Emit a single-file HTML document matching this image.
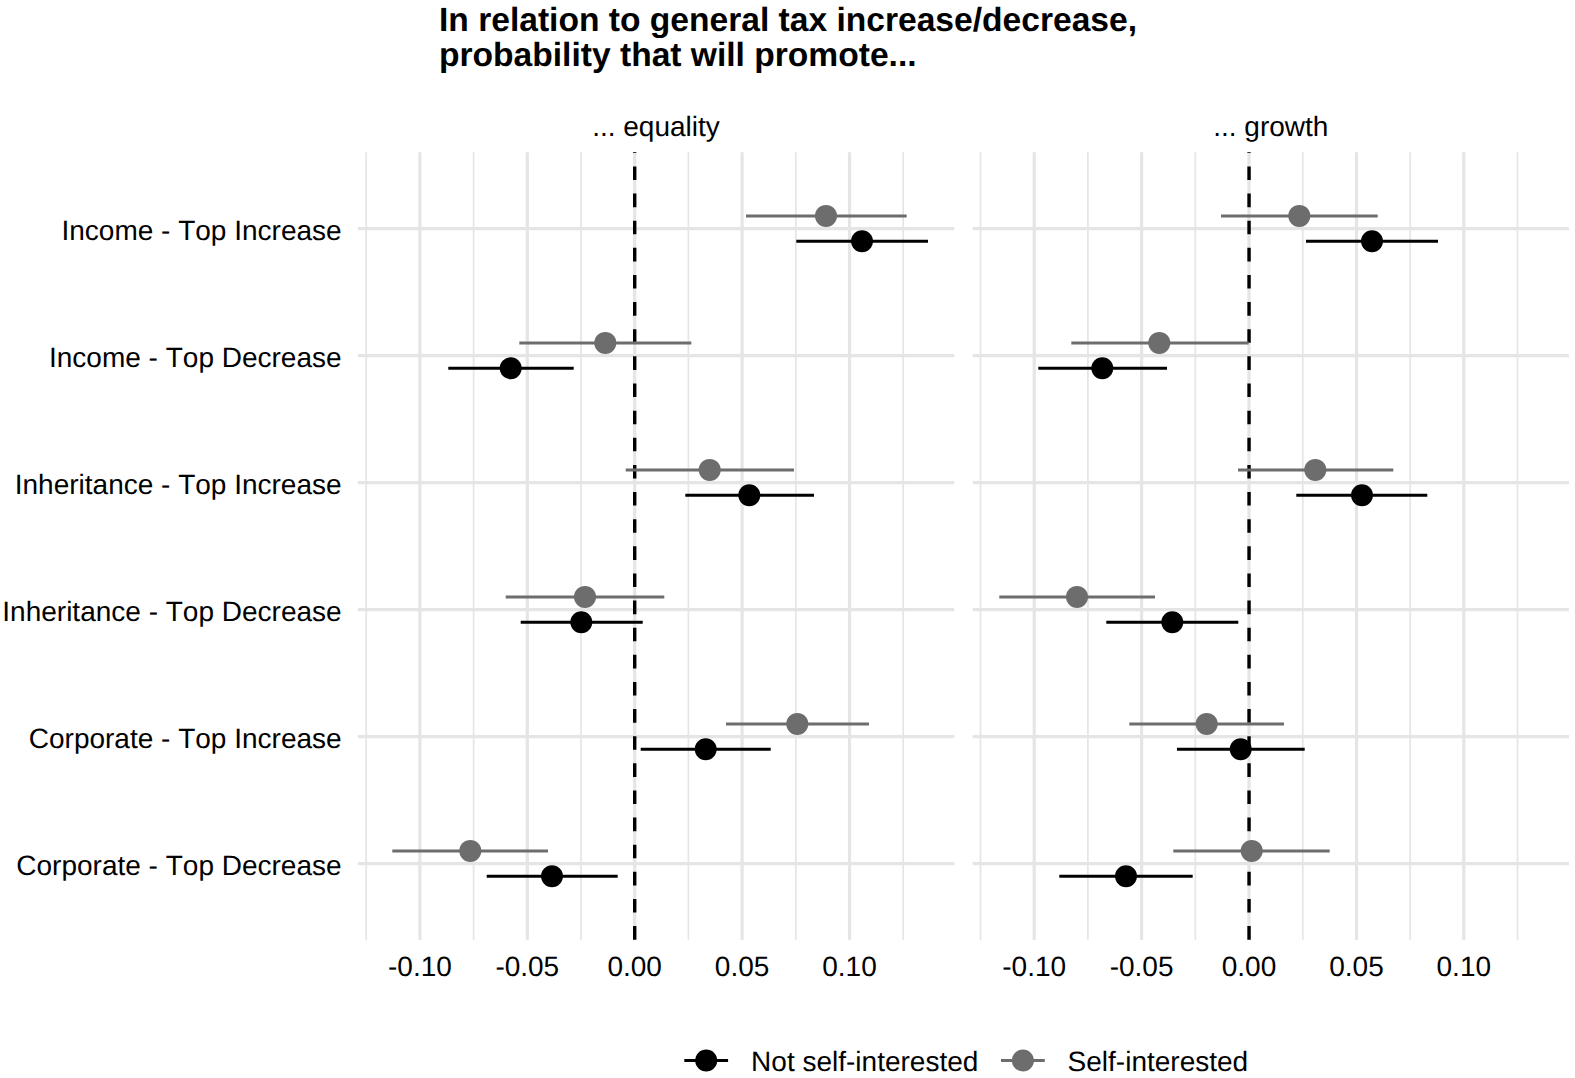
<!DOCTYPE html>
<html lang="en"><head><meta charset="utf-8"><title>Tax chart</title>
<style>html,body{margin:0;padding:0;background:#fff}svg{display:block}text{font-kerning:none;text-rendering:geometricPrecision}</style></head>
<body>
<svg width="1575" height="1078" viewBox="0 0 1575 1078">
<rect width="1575" height="1078" fill="#fff"/>
<g stroke="#E5E5E5" fill="none">
<line x1="366.2" x2="366.2" y1="152.3" y2="939.7" stroke-width="1.7"/>
<line x1="473.6" x2="473.6" y1="152.3" y2="939.7" stroke-width="1.7"/>
<line x1="581.0" x2="581.0" y1="152.3" y2="939.7" stroke-width="1.7"/>
<line x1="688.4" x2="688.4" y1="152.3" y2="939.7" stroke-width="1.7"/>
<line x1="795.8" x2="795.8" y1="152.3" y2="939.7" stroke-width="1.7"/>
<line x1="903.2" x2="903.2" y1="152.3" y2="939.7" stroke-width="1.7"/>
<line x1="419.9" x2="419.9" y1="152.3" y2="939.7" stroke-width="3.2"/>
<line x1="527.3" x2="527.3" y1="152.3" y2="939.7" stroke-width="3.2"/>
<line x1="634.7" x2="634.7" y1="152.3" y2="939.7" stroke-width="3.2"/>
<line x1="742.1" x2="742.1" y1="152.3" y2="939.7" stroke-width="3.2"/>
<line x1="849.5" x2="849.5" y1="152.3" y2="939.7" stroke-width="3.2"/>
<line x1="357.8" x2="954.3" y1="228.6" y2="228.6" stroke-width="3.4"/>
<line x1="357.8" x2="954.3" y1="355.6" y2="355.6" stroke-width="3.4"/>
<line x1="357.8" x2="954.3" y1="482.6" y2="482.6" stroke-width="3.4"/>
<line x1="357.8" x2="954.3" y1="609.6" y2="609.6" stroke-width="3.4"/>
<line x1="357.8" x2="954.3" y1="736.6" y2="736.6" stroke-width="3.4"/>
<line x1="357.8" x2="954.3" y1="863.6" y2="863.6" stroke-width="3.4"/>
</g>
<line x1="634.7" x2="634.7" y1="939.7" y2="152.3" stroke="#000" stroke-width="3.4" stroke-dasharray="13.6 13.53"/>
<line x1="746" x2="906.7" y1="215.9" y2="215.9" stroke="#6D6D6D" stroke-width="3"/>
<circle cx="826" cy="215.9" r="11" fill="#6D6D6D"/>
<line x1="796.3" x2="928" y1="241.3" y2="241.3" stroke="#000" stroke-width="3"/>
<circle cx="862" cy="241.3" r="11" fill="#000"/>
<line x1="519.3" x2="691.3" y1="342.9" y2="342.9" stroke="#6D6D6D" stroke-width="3"/>
<circle cx="605.3" cy="342.9" r="11" fill="#6D6D6D"/>
<line x1="448.3" x2="573.7" y1="368.3" y2="368.3" stroke="#000" stroke-width="3"/>
<circle cx="510.7" cy="368.3" r="11" fill="#000"/>
<line x1="625.7" x2="794" y1="469.9" y2="469.9" stroke="#6D6D6D" stroke-width="3"/>
<circle cx="709.7" cy="469.9" r="11" fill="#6D6D6D"/>
<line x1="685.3" x2="814" y1="495.3" y2="495.3" stroke="#000" stroke-width="3"/>
<circle cx="749.3" cy="495.3" r="11" fill="#000"/>
<line x1="505.7" x2="664.3" y1="596.9" y2="596.9" stroke="#6D6D6D" stroke-width="3"/>
<circle cx="585" cy="596.9" r="11" fill="#6D6D6D"/>
<line x1="520.7" x2="642.7" y1="622.3" y2="622.3" stroke="#000" stroke-width="3"/>
<circle cx="581.3" cy="622.3" r="11" fill="#000"/>
<line x1="726" x2="869" y1="723.9" y2="723.9" stroke="#6D6D6D" stroke-width="3"/>
<circle cx="797.3" cy="723.9" r="11" fill="#6D6D6D"/>
<line x1="640.7" x2="770.7" y1="749.3" y2="749.3" stroke="#000" stroke-width="3"/>
<circle cx="705.7" cy="749.3" r="11" fill="#000"/>
<line x1="392.3" x2="548" y1="850.9" y2="850.9" stroke="#6D6D6D" stroke-width="3"/>
<circle cx="470.3" cy="850.9" r="11" fill="#6D6D6D"/>
<line x1="486.7" x2="617.7" y1="876.3" y2="876.3" stroke="#000" stroke-width="3"/>
<circle cx="552" cy="876.3" r="11" fill="#000"/>
<g stroke="#E5E5E5" fill="none">
<line x1="980.5" x2="980.5" y1="152.3" y2="939.7" stroke-width="1.7"/>
<line x1="1087.9" x2="1087.9" y1="152.3" y2="939.7" stroke-width="1.7"/>
<line x1="1195.3" x2="1195.3" y1="152.3" y2="939.7" stroke-width="1.7"/>
<line x1="1302.8" x2="1302.8" y1="152.3" y2="939.7" stroke-width="1.7"/>
<line x1="1410.2" x2="1410.2" y1="152.3" y2="939.7" stroke-width="1.7"/>
<line x1="1517.5" x2="1517.5" y1="152.3" y2="939.7" stroke-width="1.7"/>
<line x1="1034.2" x2="1034.2" y1="152.3" y2="939.7" stroke-width="3.2"/>
<line x1="1141.6" x2="1141.6" y1="152.3" y2="939.7" stroke-width="3.2"/>
<line x1="1249.0" x2="1249.0" y1="152.3" y2="939.7" stroke-width="3.2"/>
<line x1="1356.5" x2="1356.5" y1="152.3" y2="939.7" stroke-width="3.2"/>
<line x1="1463.8" x2="1463.8" y1="152.3" y2="939.7" stroke-width="3.2"/>
<line x1="972.7" x2="1568.9" y1="228.6" y2="228.6" stroke-width="3.4"/>
<line x1="972.7" x2="1568.9" y1="355.6" y2="355.6" stroke-width="3.4"/>
<line x1="972.7" x2="1568.9" y1="482.6" y2="482.6" stroke-width="3.4"/>
<line x1="972.7" x2="1568.9" y1="609.6" y2="609.6" stroke-width="3.4"/>
<line x1="972.7" x2="1568.9" y1="736.6" y2="736.6" stroke-width="3.4"/>
<line x1="972.7" x2="1568.9" y1="863.6" y2="863.6" stroke-width="3.4"/>
</g>
<line x1="1249.05" x2="1249.05" y1="939.7" y2="152.3" stroke="#000" stroke-width="3.4" stroke-dasharray="13.6 13.53"/>
<line x1="1221" x2="1377.7" y1="215.9" y2="215.9" stroke="#6D6D6D" stroke-width="3"/>
<circle cx="1299.3" cy="215.9" r="11" fill="#6D6D6D"/>
<line x1="1306" x2="1438" y1="241.3" y2="241.3" stroke="#000" stroke-width="3"/>
<circle cx="1372" cy="241.3" r="11" fill="#000"/>
<line x1="1071.3" x2="1248.6" y1="342.9" y2="342.9" stroke="#6D6D6D" stroke-width="3"/>
<circle cx="1159.3" cy="342.9" r="11" fill="#6D6D6D"/>
<line x1="1038.3" x2="1167" y1="368.3" y2="368.3" stroke="#000" stroke-width="3"/>
<circle cx="1102.3" cy="368.3" r="11" fill="#000"/>
<line x1="1238" x2="1393.3" y1="469.9" y2="469.9" stroke="#6D6D6D" stroke-width="3"/>
<circle cx="1315.3" cy="469.9" r="11" fill="#6D6D6D"/>
<line x1="1296.3" x2="1427.3" y1="495.3" y2="495.3" stroke="#000" stroke-width="3"/>
<circle cx="1362" cy="495.3" r="11" fill="#000"/>
<line x1="999.3" x2="1155" y1="596.9" y2="596.9" stroke="#6D6D6D" stroke-width="3"/>
<circle cx="1077" cy="596.9" r="11" fill="#6D6D6D"/>
<line x1="1106.3" x2="1238.3" y1="622.3" y2="622.3" stroke="#000" stroke-width="3"/>
<circle cx="1172.3" cy="622.3" r="11" fill="#000"/>
<line x1="1129.3" x2="1284" y1="723.9" y2="723.9" stroke="#6D6D6D" stroke-width="3"/>
<circle cx="1206.7" cy="723.9" r="11" fill="#6D6D6D"/>
<line x1="1177" x2="1304.7" y1="749.3" y2="749.3" stroke="#000" stroke-width="3"/>
<circle cx="1240.7" cy="749.3" r="11" fill="#000"/>
<line x1="1173.3" x2="1329.7" y1="850.9" y2="850.9" stroke="#6D6D6D" stroke-width="3"/>
<circle cx="1251.7" cy="850.9" r="11" fill="#6D6D6D"/>
<line x1="1059.3" x2="1192.7" y1="876.3" y2="876.3" stroke="#000" stroke-width="3"/>
<circle cx="1126" cy="876.3" r="11" fill="#000"/>
<g font-family='"Liberation Sans", Arial, Helvetica, sans-serif' font-size="28" fill="#000">
<text x="341.6" y="239.5" text-anchor="end">Income - Top Increase</text>
<text x="341.6" y="366.5" text-anchor="end">Income - Top Decrease</text>
<text x="341.6" y="493.5" text-anchor="end">Inheritance - Top Increase</text>
<text x="341.6" y="620.5" text-anchor="end">Inheritance - Top Decrease</text>
<text x="341.6" y="747.5" text-anchor="end">Corporate - Top Increase</text>
<text x="341.6" y="874.5" text-anchor="end">Corporate - Top Decrease</text>
<text x="656.0" y="135.6" text-anchor="middle">... equality</text>
<text x="419.9" y="975.7" text-anchor="middle">-0.10</text>
<text x="527.3" y="975.7" text-anchor="middle">-0.05</text>
<text x="634.7" y="975.7" text-anchor="middle">0.00</text>
<text x="742.1" y="975.7" text-anchor="middle">0.05</text>
<text x="849.5" y="975.7" text-anchor="middle">0.10</text>
<text x="1270.8" y="135.6" text-anchor="middle">... growth</text>
<text x="1034.2" y="975.7" text-anchor="middle">-0.10</text>
<text x="1141.6" y="975.7" text-anchor="middle">-0.05</text>
<text x="1249.0" y="975.7" text-anchor="middle">0.00</text>
<text x="1356.5" y="975.7" text-anchor="middle">0.05</text>
<text x="1463.8" y="975.7" text-anchor="middle">0.10</text>
<text x="751.1" y="1071">Not self-interested</text>
<text x="1067.6" y="1071">Self-interested</text>
</g>
<g font-family='"Liberation Sans", Arial, Helvetica, sans-serif' font-size="33.6" font-weight="bold" fill="#000">
<text x="439" y="30.5">In relation to general tax increase/decrease,</text>
<text x="439" y="66.4">probability that will promote...</text>
</g>
<line x1="684.3" x2="728.1" y1="1060.5" y2="1060.5" stroke="#000" stroke-width="3"/>
<circle cx="706.2" cy="1060.5" r="11" fill="#000"/>
<line x1="1001.0" x2="1044.8" y1="1060.5" y2="1060.5" stroke="#6D6D6D" stroke-width="3"/>
<circle cx="1022.9" cy="1060.5" r="11" fill="#6D6D6D"/>
</svg>
</body></html>
